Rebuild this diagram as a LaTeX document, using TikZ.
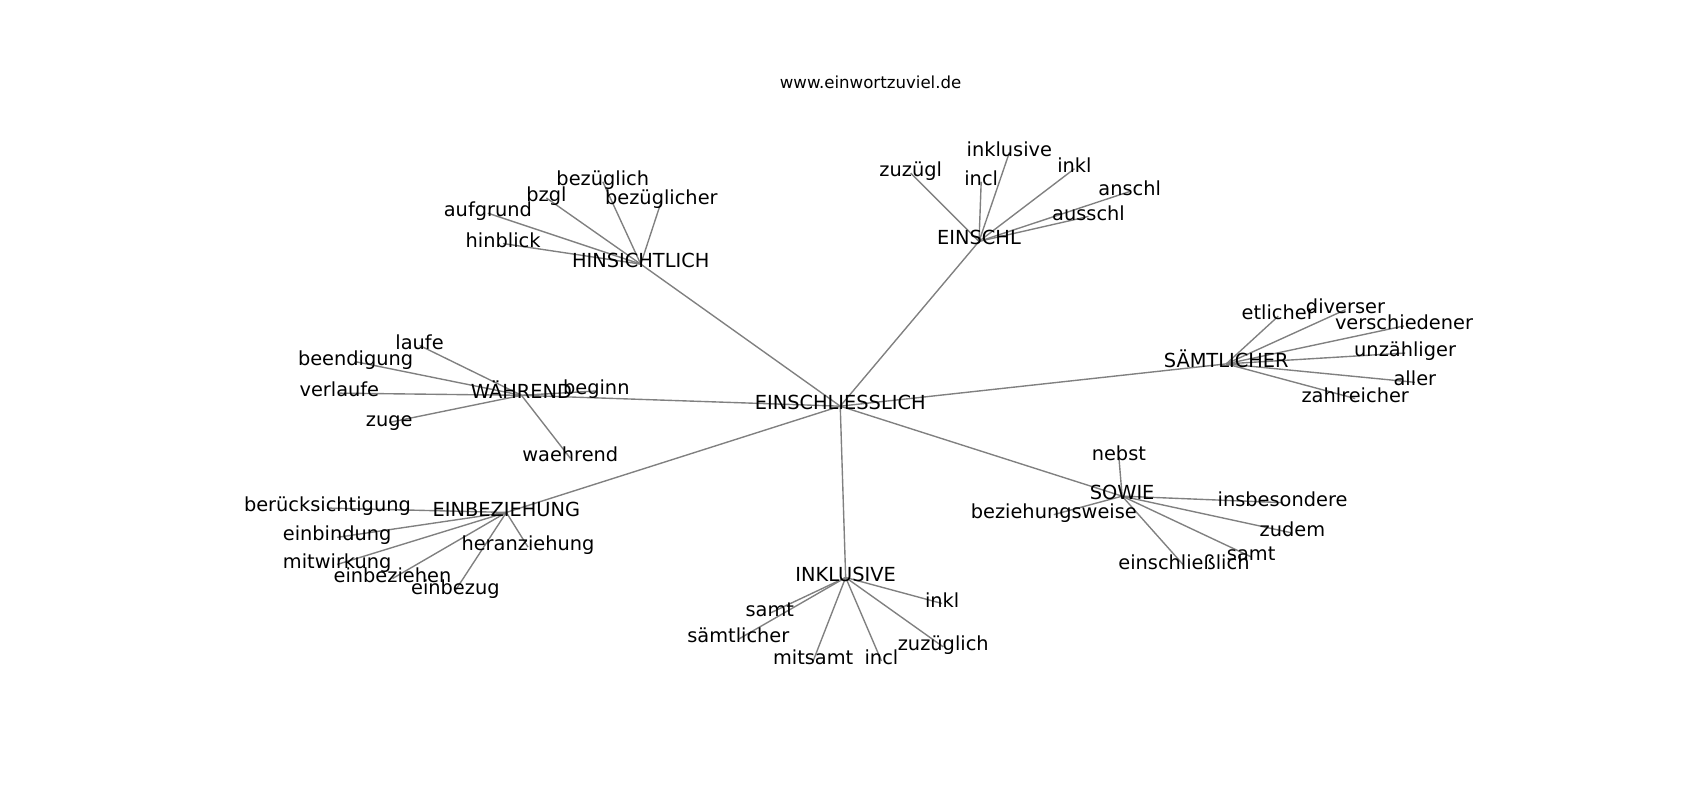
\documentclass[tikz,border=0pt]{standalone}
\usepackage{fontspec}
\setmainfont{DejaVu Sans}
\usetikzlibrary{backgrounds}

\begin{document}
\begin{tikzpicture}[x=0.027538cm,y=-0.027538cm,
  word/.style={font=\fontsize{14}{14}\selectfont,inner sep=0pt,
    text height=0.76em,text depth=0.24em,yshift=-1mm},
  link/.style={draw=gray,line width=1pt}]
  \useasboundingbox (0,0) rectangle (1568,738);
  \node[font=\fontsize{12}{12}\selectfont] (site) at (803,76) {www.einwortzuviel.de};
  \node[word] (c) at (775,371) {EINSCHLIESSLICH};
  % HINSICHTLICH
  \node[word] (hin) at (591,240) {HINSICHTLICH};
  \node[word] (hin1) at (556,164) {bezüglich};
  \node[word] (hin2) at (504,179) {bzgl};
  \node[word] (hin3) at (610,182) {bezüglicher};
  \node[word] (hin4) at (450,193) {aufgrund};
  \node[word] (hin5) at (464,221) {hinblick};
  % EINSCHL
  \node[word] (eis) at (903,219) {EINSCHL};
  \node[word] (eis1) at (840,156) {zuzügl};
  \node[word] (eis2) at (905,164) {incl};
  \node[word] (eis3) at (931,137) {inklusive};
  \node[word] (eis4) at (991,152) {inkl};
  \node[word] (eis5) at (1042,173) {anschl};
  \node[word] (eis6) at (1004,196) {ausschl};
  % SAEMTLICHER
  \node[word] (sam) at (1131,332) {SÄMTLICHER};
  \node[word] (sam1) at (1179,288) {etlicher};
  \node[word] (sam2) at (1241,282) {diverser};
  \node[word] (sam3) at (1295,297) {verschiedener};
  \node[word] (sam4) at (1296,322) {unzähliger};
  \node[word] (sam5) at (1305,349) {aller};
  \node[word] (sam6) at (1250,364) {zahlreicher};
  % WAEHREND
  \node[word] (wae) at (481,361) {WÄHREND};
  \node[word] (wae1) at (387,315) {laufe};
  \node[word] (wae2) at (328,330) {beendigung};
  \node[word] (wae3) at (313,359) {verlaufe};
  \node[word] (wae4) at (359,386) {zuge};
  \node[word] (wae5) at (550,357) {beginn};
  \node[word] (wae6) at (526,419) {waehrend};
  % EINBEZIEHUNG
  \node[word] (ebz) at (467,469) {EINBEZIEHUNG};
  \node[word] (ebz1) at (302,465) {berücksichtigung};
  \node[word] (ebz2) at (311,492) {einbindung};
  \node[word] (ebz3) at (311,517) {mitwirkung};
  \node[word] (ebz4) at (362,530) {einbeziehen};
  \node[word] (ebz5) at (420,541) {einbezug};
  \node[word] (ebz6) at (487,501) {heranziehung};
  % INKLUSIVE
  \node[word] (ink) at (780,529) {INKLUSIVE};
  \node[word] (ink1) at (710,562) {samt};
  \node[word] (ink2) at (681,586) {sämtlicher};
  \node[word] (ink3) at (750,606) {mitsamt};
  \node[word] (ink4) at (813,606) {incl};
  \node[word] (ink5) at (870,593) {zuzüglich};
  \node[word] (ink6) at (869,553) {inkl};
  % SOWIE
  \node[word] (sow) at (1035,454) {SOWIE};
  \node[word] (sow1) at (1032,418) {nebst};
  \node[word] (sow2) at (972,471) {beziehungsweise};
  \node[word] (sow3) at (1183,460) {insbesondere};
  \node[word] (sow4) at (1192,488) {zudem};
  \node[word] (sow5) at (1154,510) {samt};
  \node[word] (sow6) at (1092,518) {einschließlich};
  \begin{pgfonlayer}{background}
    \foreach \h in {hin,eis,sam,wae,ebz,ink,sow}
      \draw[link] (c.center) -- (\h.center);
    \foreach \i in {1,...,5}
      \draw[link] (hin.center) -- (hin\i.center);
    \foreach \h in {eis,sam,wae,ebz,ink,sow}
      \foreach \i in {1,...,6}
        \draw[link] (\h.center) -- (\h\i.center);
  \end{pgfonlayer}
\end{tikzpicture}
\end{document}
